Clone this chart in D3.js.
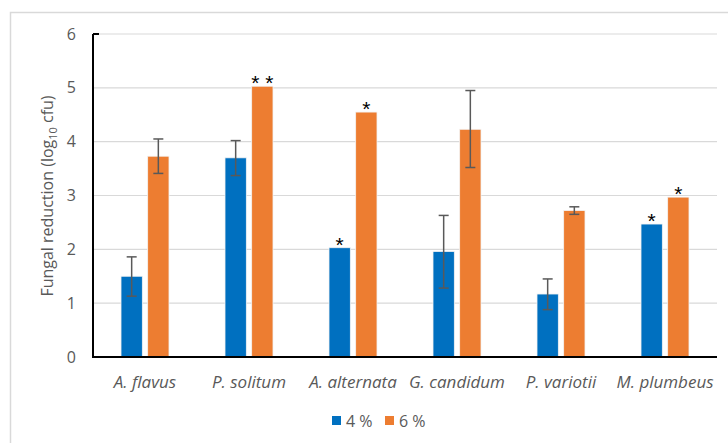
<!DOCTYPE html>
<html>
<head>
<meta charset="utf-8">
<script src="https://cdn.jsdelivr.net/npm/d3@7"></script>
<style>
  body { margin: 0; background: #fff; }
  svg { display: block; font-family: "Open Sans", sans-serif; }
</style>
</head>
<body>
<script>
var categories = ["A. flavus", "P. solitum", "A. alternata", "G. candidum", "P. variotii", "M. plumbeus"];
var seriesNames = ["4 %", "6 %"];
var values4 = [1.50, 3.70, 2.03, 1.96, 1.17, 2.47];
var values6 = [3.73, 5.03, 4.55, 4.23, 2.72, 2.97];
var errLow4 = [1.13, 3.37, null, 1.28, 0.88, null];
var errHigh4 = [1.86, 4.02, null, 2.63, 1.45, null];
var errLow6 = [3.41, null, null, 3.52, 2.65, null];
var errHigh6 = [4.05, null, null, 4.95, 2.79, null];
var stars4 = ["", "", "*", "", "", "*"];
var stars6 = ["", "* *", "*", "", "", "*"];
var yTicks = [0, 1, 2, 3, 4, 5, 6];

var colors = ["#0070C0", "#ED7D31"];
var width = 728, height = 443;

var svg = d3.select("body").append("svg")
    .attr("width", width)
    .attr("height", height);

// outer frame
svg.append("rect")
    .attr("x", 10.5).attr("y", 12.5)
    .attr("width", 800).attr("height", 600)
    .attr("fill", "none")
    .attr("stroke", "#d9d9d9")
    .attr("stroke-width", 1.5);

var x0 = 93, x1 = 717, yTop = 34, yBot = 357;

var x = d3.scaleBand().domain(categories).range([x0, x1]);
var xs = d3.scaleBand().domain(seriesNames).range([0, x.bandwidth()]).paddingInner(0.2).paddingOuter(1.05);
var y = d3.scaleLinear().domain([0, 6]).range([yBot, yTop]);

// gridlines
svg.selectAll(".grid")
    .data(yTicks.slice(1))
    .enter().append("line")
      .attr("x1", x0).attr("x2", x1)
      .attr("y1", function(d){ return y(d); })
      .attr("y2", function(d){ return y(d); })
      .attr("stroke", "#d9d9d9")
      .attr("stroke-width", 1.2);

// y tick labels
svg.selectAll(".ytick")
    .data(yTicks)
    .enter().append("text")
      .attr("x", 76)
      .attr("y", function(d){ return y(d) + 5.5; })
      .attr("text-anchor", "end")
      .attr("font-size", "16px")
      .attr("fill", "#595959")
      .text(function(d){ return d; });

// y axis title
var yt = svg.append("text")
    .attr("transform", "translate(53,196) rotate(-90)")
    .attr("text-anchor", "middle")
    .attr("font-size", "16px")
    .attr("fill", "#595959");
yt.append("tspan").text("Fungal reduction (log");
yt.append("tspan").attr("font-size", "11px").attr("dy", 4).text("10");
yt.append("tspan").attr("dy", -4).text(" cfu)");

var series = [
  { name: seriesNames[0], vals: values4, lo: errLow4, hi: errHigh4, stars: stars4, color: colors[0] },
  { name: seriesNames[1], vals: values6, lo: errLow6, hi: errHigh6, stars: stars6, color: colors[1] }
];

series.forEach(function(s) {
  var g = svg.append("g");
  var data = categories.map(function(c, i) {
    return { cat: c, v: s.vals[i], lo: s.lo[i], hi: s.hi[i], star: s.stars[i] };
  });
  g.selectAll("rect")
    .data(data)
    .enter().append("rect")
      .attr("x", function(d){ return x(d.cat) + xs(s.name); })
      .attr("y", function(d){ return y(d.v); })
      .attr("width", xs.bandwidth())
      .attr("height", function(d){ return y(0) - y(d.v); })
      .attr("fill", s.color)
      .attr("stroke", "#f3f3f3")
      .attr("stroke-width", 0.8);

  var eb = data.filter(function(d){ return d.lo != null; });
  var cx = function(d){ return x(d.cat) + xs(s.name) + xs.bandwidth() / 2; };
  g.selectAll(".ev")
    .data(eb)
    .enter().append("line")
      .attr("x1", cx).attr("x2", cx)
      .attr("y1", function(d){ return y(d.lo); })
      .attr("y2", function(d){ return y(d.hi); })
      .attr("stroke", "#595959").attr("stroke-width", 1.5);
  ["lo", "hi"].forEach(function(k) {
    g.selectAll(".cap" + k)
      .data(eb)
      .enter().append("line")
        .attr("x1", function(d){ return cx(d) - 5; })
        .attr("x2", function(d){ return cx(d) + 5; })
        .attr("y1", function(d){ return y(d[k]); })
        .attr("y2", function(d){ return y(d[k]); })
        .attr("stroke", "#595959").attr("stroke-width", 1.5);
  });

  g.selectAll(".star")
    .data(data.filter(function(d){ return d.star; }))
    .enter().append("text")
      .attr("x", cx)
      .attr("y", function(d){ return y(d.v) + 4; })
      .attr("text-anchor", "middle")
      .attr("font-size", "21px")
      .attr("font-family", "Liberation Sans, sans-serif")
      .attr("fill", "#000")
      .text(function(d){ return d.star; });
});

// axes lines
svg.append("line")
    .attr("x1", x0).attr("x2", x0)
    .attr("y1", yTop).attr("y2", yBot)
    .attr("stroke", "#000").attr("stroke-width", 2);
svg.append("line")
    .attr("x1", x0).attr("x2", x0 + 6)
    .attr("y1", yTop).attr("y2", yTop)
    .attr("stroke", "#000").attr("stroke-width", 2);
svg.append("line")
    .attr("x1", x0 - 1).attr("x2", x1)
    .attr("y1", yBot).attr("y2", yBot)
    .attr("stroke", "#000").attr("stroke-width", 2);

// category labels
svg.selectAll(".xlab")
    .data(categories)
    .enter().append("text")
      .attr("x", function(d){ return x(d) + x.bandwidth() / 2; })
      .attr("y", 388)
      .attr("text-anchor", "middle")
      .attr("font-size", "17px")
      .attr("font-style", "italic")
      .attr("fill", "#595959")
      .text(function(d){ return d; });

// legend
var legX = [332, 385];
var leg = svg.selectAll(".leg")
    .data(series)
    .enter().append("g")
      .attr("transform", function(d, i){ return "translate(" + legX[i] + ",416)"; });
leg.append("rect")
    .attr("width", 9).attr("height", 9)
    .attr("fill", function(d){ return d.color; });
leg.append("text")
    .attr("x", 14).attr("y", 10.5)
    .attr("font-size", "16px")
    .attr("fill", "#595959")
    .text(function(d){ return d.name; });
</script>
</body>
</html>
